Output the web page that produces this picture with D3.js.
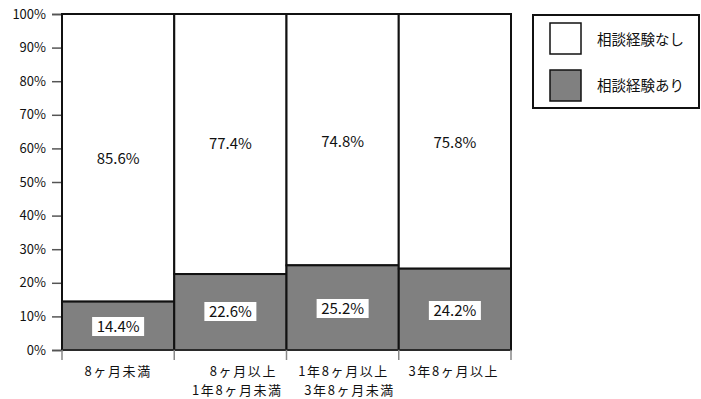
<!DOCTYPE html>
<html>
<head>
<meta charset="utf-8">
<script src="https://cdn.jsdelivr.net/npm/d3@7"></script>
<style>
  body { margin: 0; background: #fff; }
  text { font-family: "Noto Sans CJK JP", sans-serif; fill: #111; }
</style>
</head>
<body>
<div id="chart"></div>
<script>
const categories = [["8ヶ月未満"], ["8ヶ月以上", "1年8ヶ月未満"], ["1年8ヶ月以上", "3年8ヶ月未満"], ["3年8ヶ月以上"]];
const withConsult = [14.4, 22.6, 25.2, 24.2];
const withoutConsult = [85.6, 77.4, 74.8, 75.8];
const seriesNames = ["相談経験なし", "相談経験あり"];
const yTicks = [0, 10, 20, 30, 40, 50, 60, 70, 80, 90, 100];

const width = 701, height = 399;
const margin = {left: 62, top: 14, right: 190, bottom: 49};

const svg = d3.select("#chart").append("svg")
  .attr("width", width).attr("height", height);

const x = d3.scaleBand()
  .domain(d3.range(categories.length))
  .range([margin.left, 511])
  .padding(0);
const y = d3.scaleLinear().domain([0, 100]).range([height - margin.bottom, margin.top]);

// y axis
const yAxis = svg.append("g")
  .attr("transform", `translate(${margin.left},0)`)
  .call(d3.axisLeft(y).tickValues(yTicks).tickFormat(d => d + "%").tickSize(10).tickPadding(6));
yAxis.select(".domain").attr("stroke", "#333").attr("stroke-width", 1.5);
yAxis.selectAll(".tick line").attr("stroke", "#555").attr("stroke-width", 1.5);
yAxis.selectAll(".tick text").attr("font-size", 13).attr("font-family", "Noto Sans CJK JP");

const bars = svg.append("g");
categories.forEach((c, i) => {
  const x0 = x(i), w = x.bandwidth();
  bars.append("rect")
    .attr("x", x0).attr("y", y(100))
    .attr("width", w).attr("height", y(withConsult[i]) - y(100))
    .attr("fill", "#fff").attr("stroke", "#111").attr("stroke-width", 2);
  bars.append("rect")
    .attr("x", x0).attr("y", y(withConsult[i]))
    .attr("width", w).attr("height", y(0) - y(withConsult[i]))
    .attr("fill", "#808080").attr("stroke", "#111").attr("stroke-width", 2);
});

// x axis baseline and ticks
svg.append("line")
  .attr("x1", margin.left).attr("x2", 511)
  .attr("y1", y(0)).attr("y2", y(0))
  .attr("stroke", "#333").attr("stroke-width", 1.5);
d3.range(categories.length + 1).forEach(i => {
  const xx = i < categories.length ? x(i) : x(i - 1) + x.bandwidth();
  svg.append("line")
    .attr("x1", xx).attr("x2", xx)
    .attr("y1", y(0)).attr("y2", y(0) + 10)
    .attr("stroke", "#888").attr("stroke-width", 1.5);
});

// category labels (per-line nudges to mimic the original alignment)
const lineShift = [[0], [13, 7], [1, 7], [-1]];
categories.forEach((lines, i) => {
  lines.forEach((l, k) => {
    svg.append("text")
      .attr("text-anchor", "middle")
      .attr("font-size", 13)
      .attr("letter-spacing", 1.6)
      .attr("x", x(i) + x.bandwidth() / 2 + lineShift[i][k])
      .attr("y", 376 + k * 19)
      .text(l);
  });
});

// upper value labels
const upperY = [158, 143, 141, 142];
withoutConsult.forEach((v, i) => {
  svg.append("text")
    .attr("x", x(i) + x.bandwidth() / 2)
    .attr("y", upperY[i] + 6)
    .attr("text-anchor", "middle")
    .attr("font-size", 15)
    .text(v.toFixed(1) + "%");
});

// lower value labels with white boxes
const lowerY = [326, 311, 308, 310];
withConsult.forEach((v, i) => {
  const cx = x(i) + x.bandwidth() / 2;
  svg.append("rect")
    .attr("x", cx - 26).attr("y", lowerY[i] - 9)
    .attr("width", 52).attr("height", 19)
    .attr("fill", "#fff");
  svg.append("text")
    .attr("x", cx)
    .attr("y", lowerY[i] + 6)
    .attr("text-anchor", "middle")
    .attr("font-size", 15)
    .text(v.toFixed(1) + "%");
});

// legend
const lg = svg.append("g");
lg.append("rect")
  .attr("x", 533).attr("y", 15).attr("width", 166).attr("height", 93)
  .attr("fill", "#fff").attr("stroke", "#111").attr("stroke-width", 2);
const legendFills = ["#fff", "#808080"];
seriesNames.forEach((n, i) => {
  lg.append("rect")
    .attr("x", 550).attr("y", 23 + i * 47)
    .attr("width", 31).attr("height", 31)
    .attr("fill", legendFills[i]).attr("stroke", "#111").attr("stroke-width", 1.5);
  lg.append("text")
    .attr("x", 597).attr("y", 45 + i * 46)
    .attr("font-size", 14.5)
    .text(n);
});
</script>
</body>
</html>
